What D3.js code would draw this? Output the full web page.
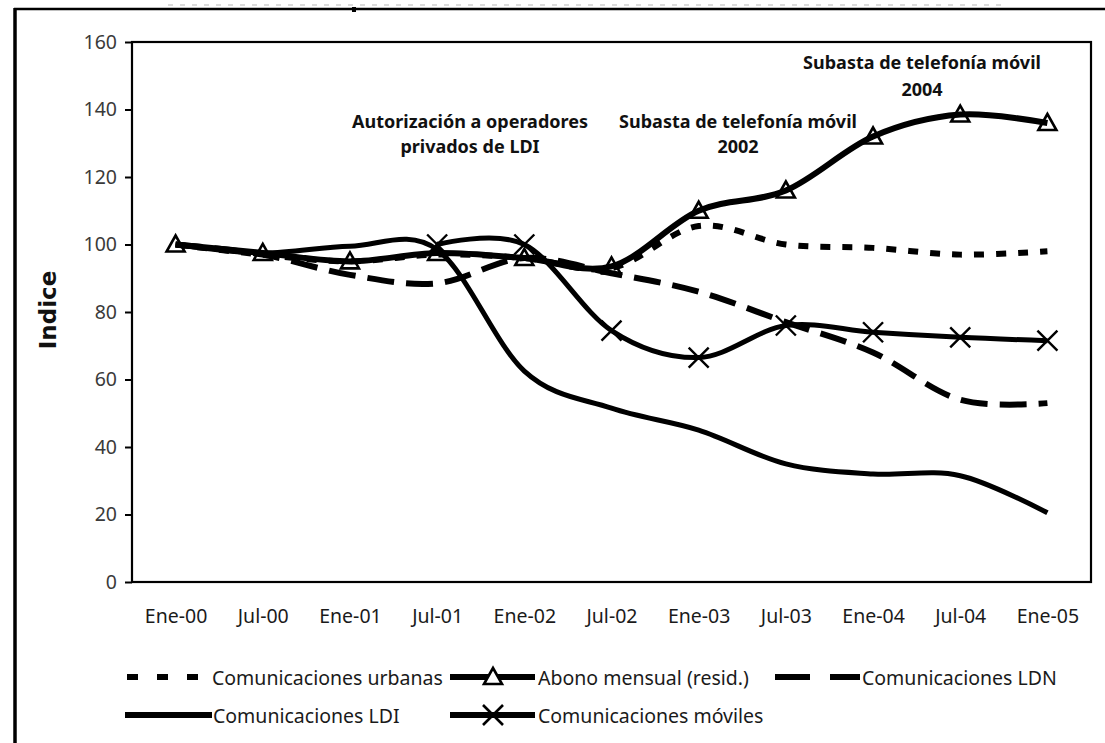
<!DOCTYPE html>
<html>
<head>
<meta charset="utf-8">
<script src="https://cdn.jsdelivr.net/npm/d3@7"></script>
<style>
  html, body { margin: 0; padding: 0; background: #ffffff; }
  svg { display: block; }
</style>
</head>
<body>
<svg id="chart" width="1105" height="743"></svg>
<script>
// ---------------- DATA ----------------
const categories = ["Ene-00","Jul-00","Ene-01","Jul-01","Ene-02","Jul-02","Ene-03","Jul-03","Ene-04","Jul-04","Ene-05"];
const urbanas  = [100, 97, 95, 97, 96, 93, 105.5, 100, 99, 97, 98];
const abono    = [100, 97.5, 95, 97.5, 96, 93.5, 110, 116, 132, 138.5, 136];
const ldn      = [100, 97, 91, 88.5, 96, 91.5, 86, 77, 68, 54, 53];
const ldi      = [100, 97.5, 99.5, 98.5, 62.5, 51.5, 45, 35, 32, 31.5, 20.5];
const moviles  = [null, null, null, 100, 100, 74.5, 66.5, 76, 74, 72.5, 71.5];
const seriesNames = ["Comunicaciones urbanas","Abono mensual (resid.)","Comunicaciones LDN","Comunicaciones LDI","Comunicaciones móviles"];
const yTicks = [0, 20, 40, 60, 80, 100, 120, 140, 160];
const yTitle = "Indice";
const annotations = [
  ["Autorización a operadores", "privados de LDI"],
  ["Subasta de telefonía móvil", "2002"],
  ["Subasta de telefonía móvil", "2004"]
];

// ---------------- SETUP ----------------
const svg = d3.select("#chart");
const plot = {left: 132, right: 1091, top: 42, bottom: 582};
const x = d3.scalePoint().domain(categories).range([plot.left, plot.right]).padding(0.5);
const y = d3.scaleLinear().domain([0, 160]).range([plot.bottom, plot.top]);
const FONT = "'Noto Sans', 'DejaVu Sans', sans-serif";

// page artefacts / outer chart border
svg.append("line").attr("x1", 168).attr("x2", 1005).attr("y1", 5).attr("y2", 5)
  .attr("stroke", "#d0d0d0").attr("stroke-width", 1.5).attr("stroke-dasharray", "5,7");
svg.append("line").attr("x1", 14).attr("x2", 1105).attr("y1", 9).attr("y2", 9)
  .attr("stroke", "#000").attr("stroke-width", 2.5);
svg.append("line").attr("x1", 15).attr("x2", 15).attr("y1", 8).attr("y2", 743)
  .attr("stroke", "#000").attr("stroke-width", 3.5);
svg.append("rect").attr("x", 352).attr("y", 7).attr("width", 4).attr("height", 5).attr("fill", "#000");

// plot frame
svg.append("rect")
  .attr("x", plot.left).attr("y", plot.top)
  .attr("width", plot.right - plot.left).attr("height", plot.bottom - plot.top)
  .attr("fill", "none").attr("stroke", "#000").attr("stroke-width", 2.2);

// y axis
const yAxis = svg.append("g").attr("transform", `translate(${plot.left},0)`)
  .call(d3.axisLeft(y).tickValues(yTicks).tickSize(7).tickPadding(8).tickFormat(d3.format("d")));
yAxis.select(".domain").remove();
yAxis.selectAll(".tick line").attr("stroke", "#000").attr("stroke-width", 2);
yAxis.selectAll(".tick text").attr("font-family", FONT).attr("font-size", 19.5).attr("fill", "#3a3a3a");

// x axis
const xAxis = svg.append("g").attr("transform", `translate(0,${plot.bottom})`)
  .call(d3.axisBottom(x).tickSize(0).tickPadding(27));
xAxis.select(".domain").remove();
xAxis.selectAll(".tick text").attr("font-family", FONT).attr("font-size", 19.5).attr("fill", "#1a1a1a");

// y title
svg.append("text")
  .attr("transform", "translate(56,310) rotate(-90)")
  .attr("text-anchor", "middle")
  .attr("font-family", "'DejaVu Sans', sans-serif").attr("font-weight", "bold")
  .attr("font-size", 23).attr("fill", "#111")
  .text(yTitle);

// ---------------- SERIES ----------------
const seriesData = [urbanas, abono, ldn, ldi, moviles];
const seriesStyle = [
  {dash: "10,12", width: 6, marker: null},
  {dash: null, width: 6, marker: "tri"},
  {dash: "27,12", width: 6, marker: null},
  {dash: null, width: 5, marker: null},
  {dash: null, width: 5, marker: "x"}
];

const line = d3.line()
  .defined(d => d.v !== null)
  .x(d => x(d.c))
  .y(d => y(d.v))
  .curve(d3.curveCardinal.tension(0));

const triPath = "M0,-9L9,7L-9,7Z";
const xPath = "M-10,-10L10,10M-10,10L10,-10";

seriesData.forEach((vals, i) => {
  const pts = categories.map((c, j) => ({c: c, v: vals[j]}));
  const st = seriesStyle[i];
  svg.append("path")
    .datum(pts)
    .attr("d", line)
    .attr("fill", "none")
    .attr("stroke", "#000")
    .attr("stroke-width", st.width)
    .attr("stroke-linejoin", "round")
    .attr("stroke-dasharray", st.dash);
  if (st.marker) {
    svg.append("g").selectAll("path")
      .data(pts.filter(d => d.v !== null))
      .join("path")
      .attr("transform", d => `translate(${x(d.c)},${y(d.v)})`)
      .attr("d", st.marker === "tri" ? triPath : xPath)
      .attr("fill", "none")
      .attr("stroke", "#000")
      .attr("stroke-width", st.marker === "tri" ? 2.6 : 2.4);
  }
});

// ---------------- ANNOTATIONS ----------------
const annPos = [
  {cx: 470, y1: 128, y2: 153},
  {cx: 738, y1: 128, y2: 153},
  {cx: 922, y1: 69, y2: 96}
];
annotations.forEach((lines, i) => {
  const p = annPos[i];
  const t = svg.append("text")
    .attr("text-anchor", "middle")
    .attr("font-family", FONT).attr("font-weight", "bold")
    .attr("font-size", 18).attr("fill", "#111");
  t.append("tspan").attr("x", p.cx).attr("y", p.y1).text(lines[0]);
  t.append("tspan").attr("x", p.cx).attr("y", p.y2).text(lines[1]);
});

// ---------------- LEGEND ----------------
const legendLayout = [
  {x1: 127, x2: 200, mx: null, tx: 212, y: 677, dash: "11,19"},
  {x1: 450, x2: 535, mx: 493, tx: 538, y: 677, dash: null},
  {x1: 775, x2: 860, mx: null, tx: 862, y: 677, dash: "35,20"},
  {x1: 125, x2: 212, mx: null, tx: 213, y: 715, dash: null},
  {x1: 450, x2: 535, mx: 493, tx: 538, y: 715, dash: null}
];
const legend = svg.append("g");
seriesNames.forEach((name, i) => {
  const L = legendLayout[i];
  const st = seriesStyle[i];
  legend.append("line")
    .attr("x1", L.x1).attr("x2", L.x2).attr("y1", L.y).attr("y2", L.y)
    .attr("stroke", "#000").attr("stroke-width", 6)
    .attr("stroke-dasharray", L.dash);
  if (st.marker && L.mx !== null) {
    legend.append("path")
      .attr("transform", `translate(${L.mx},${L.y})`)
      .attr("d", st.marker === "tri" ? triPath : xPath)
      .attr("fill", st.marker === "tri" ? "#fff" : "none")
      .attr("stroke", "#000").attr("stroke-width", 2.6);
  }
  legend.append("text")
    .attr("x", L.tx).attr("y", L.y + 8)
    .attr("font-family", FONT).attr("font-size", 19.5).attr("fill", "#1a1a1a")
    .text(name);
});
</script>
</body>
</html>
